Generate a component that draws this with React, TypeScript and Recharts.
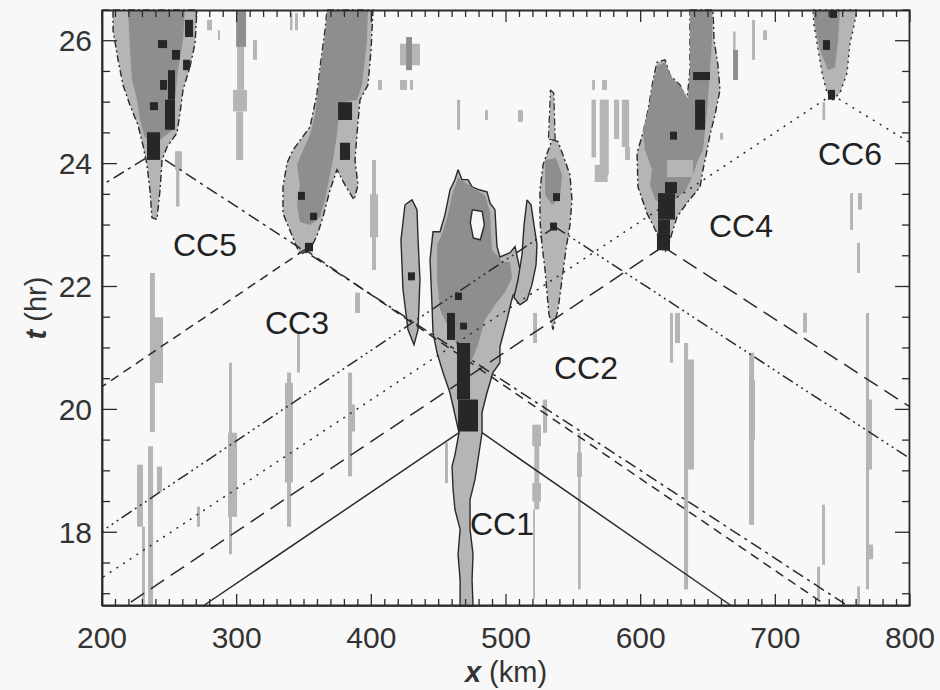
import React from 'react';
import { ScatterChart, Scatter, XAxis, YAxis } from 'recharts';

type Pair = [number, number];
type Rect = [number, number, number, number]; // x1, x2, t1, t2

// ---------- axis ticks ----------
const xTicks: number[] = Array.from({ length: 61 }, (_, i) => 200 + i * 10);
const yTicks: number[] = Array.from({ length: 20 }, (_, i) => 17 + i * 0.5);
const yLabelTicks = [18, 20, 22, 24, 26];
const xDomain: Pair = [200, 800];
const tDomain: Pair = [16.8, 26.5];
// inward tick lengths on the mirrored (top / right) edges, in data units
const topTickLen = { major: 0.195, minor: 0.114 }; // hr
const rightTickLen = { major: 11.1, minor: 5.9 }; // km
// the frame is traced a hair inside the domain so its stroke is not clipped away
const frameInset = { x: 0.4, t: 0.008 };

// ---------- cluster outlines [x km, t hr] ----------
const cc1Outer: Pair[] = [
  [464.4, 23.9], [467.3, 23.74], [471.8, 23.74], [474.8, 23.62], [480.7, 23.57], [485.9, 23.54],
  [488.1, 23.36], [491.8, 23.25], [493.3, 22.65], [495.5, 22.48], [503.0, 22.55], [506.7, 22.65],
  [510.4, 22.27], [512.6, 22.0], [505.2, 21.86], [503.0, 21.67], [500.8, 21.46], [495.5, 21.02],
  [495.5, 20.76], [490.3, 20.6], [485.9, 20.27], [482.2, 19.95], [482.2, 19.62], [479.2, 19.18],
  [477.0, 18.86], [473.3, 18.53], [473.3, 18.05], [475.5, 17.64], [474.8, 17.23], [475.5, 16.8],
  [465.9, 16.8], [465.9, 17.23], [464.4, 17.64], [465.9, 18.05], [462.1, 18.37], [460.7, 18.7],
  [459.9, 19.07], [462.1, 19.26], [465.1, 19.62], [458.4, 20.27], [453.2, 20.6], [448.8, 20.92],
  [445.8, 21.25], [445.1, 21.67], [443.6, 22.44], [445.8, 22.89], [451.0, 22.89], [454.7, 23.17],
  [458.4, 23.57], [462.1, 23.74],
];
const cc1Medium: Pair[] = [
  [464.4, 23.77], [473.3, 23.64], [484.4, 23.48], [488.1, 23.22], [489.6, 22.6], [497.8, 22.4],
  [503.0, 22.4], [504.5, 22.14], [499.3, 21.91], [491.8, 21.7], [484.4, 21.46], [479.2, 21.05],
  [473.3, 20.73], [465.9, 20.78], [462.1, 21.14], [456.2, 21.38], [451.0, 21.62], [448.8, 22.11],
  [448.8, 22.68], [453.2, 22.89], [456.9, 23.17], [459.9, 23.49],
];
const cc1Finger: Pair[] = [
  [425.0, 23.33], [430.2, 23.41], [433.9, 23.25], [434.7, 22.76], [436.1, 22.11], [434.7, 21.3],
  [431.7, 21.05], [427.2, 21.3], [423.5, 21.95], [422.0, 22.76],
];
const cc1Lobe: Pair[] = [
  [515.6, 23.41], [518.6, 23.33], [520.8, 23.0], [523.0, 22.68], [522.3, 22.35], [519.3, 22.03],
  [515.6, 21.78], [510.4, 21.7], [505.9, 21.82], [508.9, 22.11], [511.9, 22.52], [513.4, 23.0],
];
const cc1Hole: Pair[] = [
  [475.0, 23.25], [482.4, 23.22], [483.9, 23.0], [480.9, 22.76], [475.7, 22.79], [473.5, 23.04],
];
const cc2Outer: Pair[] = [
  [534.2, 24.39], [538.6, 24.36], [542.3, 24.14], [547.5, 23.82], [549.0, 23.41], [547.5, 23.0],
  [544.5, 22.6], [541.6, 22.11], [538.6, 21.62], [534.9, 21.3], [531.9, 21.55], [530.5, 21.88],
  [529.0, 22.27], [526.7, 22.68], [525.2, 23.09], [525.2, 23.57], [527.5, 23.98],
];
const cc2Medium: Pair[] = [
  [529.0, 24.06], [537.1, 24.09], [541.6, 23.82], [540.1, 23.44], [534.2, 23.33], [529.0, 23.49],
];
const cc2Top: Pair[] = [
  [533.0, 25.2], [535.5, 25.15], [536.5, 24.39], [531.5, 24.39],
];
const cc3Outer: Pair[] = [
  [367.1, 26.5], [401.2, 26.5], [399.8, 25.85], [397.5, 25.28], [391.6, 25.04], [389.4, 24.5],
  [387.9, 24.06], [390.1, 23.65], [387.1, 23.41], [380.5, 23.65], [374.5, 23.9], [369.3, 23.57],
  [364.1, 23.13], [359.7, 22.83], [354.5, 22.6], [347.0, 22.52], [341.1, 22.83], [334.4, 23.19],
  [334.4, 23.62], [337.4, 24.01], [341.8, 24.22], [354.5, 24.6], [359.7, 25.15], [361.9, 25.57],
  [365.6, 26.17],
];
const cc3Medium: Pair[] = [
  [367.1, 26.5], [397.5, 26.5], [396.8, 26.01], [393.1, 25.28], [389.4, 25.04], [376.7, 24.99],
  [374.5, 24.47], [371.5, 24.06], [369.3, 23.82], [365.6, 23.41], [361.9, 23.13], [354.5, 23.0],
  [347.0, 23.05], [344.8, 23.33], [347.0, 23.65], [344.8, 23.98], [349.3, 24.22], [354.5, 24.47],
  [358.2, 24.79], [360.4, 25.2], [362.6, 25.6], [366.3, 26.17],
];
const cc4Outer: Pair[] = [
  [636.6, 26.5], [653.7, 26.5], [654.5, 26.01], [657.4, 25.6], [658.9, 25.2], [655.2, 24.79],
  [651.5, 24.47], [649.3, 24.22], [646.3, 23.9], [644.1, 23.62], [634.4, 23.36], [627.0, 23.13],
  [623.3, 22.87], [620.3, 22.65], [618.1, 22.56], [614.4, 22.65], [612.1, 22.87], [604.7, 23.19],
  [598.0, 23.62], [597.3, 24.17], [601.7, 24.5], [605.5, 24.87], [609.2, 25.36], [612.1, 25.65],
  [618.1, 25.69], [621.8, 25.44], [629.2, 25.28], [634.4, 25.04], [636.6, 25.52], [636.6, 26.01],
];
const cc4Medium: Pair[] = [
  [636.6, 26.5], [653.0, 26.5], [653.0, 26.01], [651.5, 25.52], [649.3, 24.87], [646.3, 24.22],
  [642.6, 24.06], [638.9, 23.82], [633.7, 23.57], [625.5, 23.41], [618.1, 23.33], [610.7, 23.41],
  [606.9, 23.65], [608.4, 23.9], [603.2, 24.22], [601.7, 24.55], [605.5, 24.87], [609.2, 25.33],
  [612.9, 25.6], [618.1, 25.65], [623.3, 25.39], [630.7, 25.23], [635.2, 25.04], [636.6, 25.52],
];
const cc5Outer: Pair[] = [
  [208.2, 26.5], [270.5, 26.5], [269.1, 25.96], [265.3, 25.57], [260.2, 25.2], [257.9, 24.82],
  [255.7, 24.5], [248.3, 24.27], [244.6, 24.06], [243.1, 23.57], [240.8, 23.09], [237.1, 23.12],
  [235.6, 23.57], [233.4, 23.98], [230.4, 24.3], [226.7, 24.63], [220.8, 24.95], [215.6, 25.28],
  [211.9, 25.69], [208.2, 26.17],
];
const cc5Medium: Pair[] = [
  [219.3, 26.5], [261.6, 26.5], [260.2, 26.01], [256.4, 25.52], [254.2, 25.04], [252.7, 24.55],
  [243.1, 24.39], [231.9, 24.42], [228.2, 24.71], [226.0, 25.04], [222.3, 25.36], [220.8, 25.85],
];
const cc6Outer: Pair[] = [
  [728.0, 26.5], [760.7, 26.5], [757.7, 26.17], [755.5, 25.96], [753.2, 25.47], [748.0, 25.15],
  [742.8, 25.04], [738.4, 25.15], [734.7, 25.47], [731.0, 25.96], [728.7, 26.26],
];
const cc6Medium: Pair[] = [
  [728.0, 26.5], [748.0, 26.5], [746.6, 26.01], [744.3, 25.57], [739.1, 25.52], [733.2, 25.85],
  [729.5, 26.26],
];

// ---------- cells and streaks [x1, x2, t1, t2] ----------
const lightStreaks: Rect[] = [
  [235.6, 239.3, 19.63, 22.22], [235.6, 245.3, 20.43, 21.5], [226.0, 230.4, 18.09, 19.1],
  [234.2, 237.9, 16.8, 19.4], [229.7, 231.9, 16.8, 18.09], [240.8, 244.6, 18.65, 19.07],
  [294.3, 296.5, 17.64, 20.76], [293.6, 300.3, 18.25, 19.62], [337.4, 340.4, 18.09, 20.6],
  [335.9, 341.8, 18.81, 20.43], [344.8, 347.0, 20.6, 21.25], [382.7, 385.7, 18.91, 20.6],
  [383.4, 387.9, 19.64, 20.08], [387.9, 391.6, 21.57, 21.9], [270.5, 272.8, 18.09, 18.42],
  [400.5, 403.5, 22.27, 24.06], [399.0, 405.0, 22.8, 23.5],
  [300.3, 305.5, 25.2, 25.9], [297.3, 307.7, 24.85, 25.2], [299.6, 304.8, 24.06, 24.85],
  [312.1, 315.1, 25.69, 26.01], [278.0, 281.7, 26.17, 26.34], [286.1, 287.6, 26.01, 26.17],
  [339.6, 341.5, 26.17, 26.45], [343.3, 345.5, 26.17, 26.45],
  [421.3, 425.8, 25.6, 25.95], [430.2, 436.1, 25.6, 25.95],
  [405.0, 407.9, 25.2, 25.36], [421.3, 426.5, 25.2, 25.36], [428.7, 431.0, 25.2, 25.36],
  [484.4, 486.6, 24.71, 24.87], [508.9, 512.6, 24.68, 24.87], [463.6, 465.9, 24.55, 25.04],
  [563.5, 566.8, 24.1, 25.04], [569.6, 576.3, 23.82, 25.04], [565.9, 575.5, 23.7, 23.98],
  [580.2, 584.0, 24.4, 25.04], [586.0, 591.4, 24.27, 25.04], [588.4, 592.1, 24.06, 24.27],
  [563.9, 566.1, 25.2, 25.36], [571.3, 575.0, 25.2, 25.36],
  [682.7, 684.9, 25.69, 26.34], [690.9, 693.8, 26.01, 26.17], [658.9, 661.2, 24.39, 24.5],
  [668.6, 670.5, 25.85, 26.15],
  [755.5, 757.7, 22.92, 23.52], [761.4, 764.4, 23.25, 23.52], [760.7, 762.9, 22.22, 22.71],
  [621.8, 624.0, 20.76, 21.57], [625.5, 629.2, 21.08, 21.57], [632.2, 635.2, 17.07, 21.08],
  [632.2, 639.6, 19.02, 20.81],
  [680.5, 684.2, 18.12, 20.92], [680.5, 684.9, 19.51, 20.48],
  [767.3, 769.6, 17.07, 21.57], [768.8, 771.8, 19.02, 20.16], [768.1, 772.6, 17.56, 17.8],
  [720.6, 723.5, 21.25, 21.57],
  [734.7, 736.9, 17.47, 18.45], [731.0, 733.2, 16.91, 17.44], [760.7, 762.9, 16.8, 17.12],
  [521.0, 524.7, 18.37, 19.75], [519.5, 526.0, 18.5, 18.8], [519.5, 526.0, 19.4, 19.75],
  [520.1, 521.5, 16.91, 18.37], [527.5, 530.5, 19.62, 20.16],
  [553.5, 555.5, 17.07, 19.62], [552.7, 556.4, 18.9, 19.3],
  [454.7, 456.9, 18.8, 19.46], [520.1, 523.0, 21.08, 21.57],
  [255.0, 257.5, 23.3, 24.2], [254.2, 259.4, 23.9, 24.2],
  [735.0, 737.0, 24.71, 25.0],
];
const mediumBlocks: Rect[] = [
  [299.6, 307.0, 25.9, 26.5], [425.8, 430.2, 25.52, 26.06], [668.6, 672.3, 25.36, 25.85],
];
const lightPatches: Rect[] = [
  [619.6, 638.9, 23.78, 24.06],
];
const darkCells: Rect[] = [
  [427.2, 432.4, 22.1, 22.23], [462.1, 467.3, 21.78, 21.9], [456.2, 462.1, 21.13, 21.57],
  [465.9, 471.0, 21.3, 21.41], [463.6, 473.3, 20.16, 21.08], [464.4, 479.2, 19.64, 20.16],
  [534.9, 540.1, 23.39, 23.52], [532.7, 537.9, 22.91, 23.04],
  [375.3, 385.7, 24.71, 25.0], [376.7, 384.2, 24.06, 24.34], [345.5, 350.7, 23.41, 23.54],
  [354.5, 359.7, 23.08, 23.2], [350.7, 356.7, 22.57, 22.71],
  [638.9, 651.5, 25.36, 25.49], [640.4, 647.8, 24.55, 25.04], [621.8, 627.0, 24.39, 24.52],
  [618.1, 627.0, 23.52, 23.7], [612.9, 625.5, 23.09, 23.52], [612.9, 621.8, 22.87, 23.09],
  [612.1, 621.8, 22.59, 22.87],
  [241.6, 248.3, 25.88, 26.01], [252.0, 257.9, 25.69, 25.85], [260.2, 265.3, 25.52, 25.69],
  [261.6, 267.6, 26.06, 26.34], [243.1, 248.3, 25.2, 25.36], [249.0, 254.2, 25.04, 25.52],
  [235.6, 241.6, 24.87, 25.0], [246.8, 254.2, 24.55, 25.04], [233.4, 243.1, 24.06, 24.51],
  [740.6, 745.8, 26.37, 26.5], [735.4, 740.6, 25.85, 26.01], [739.1, 744.3, 25.04, 25.2],
];

// ---------- characteristic rays from each cluster ----------
const rays: { cc: string; from: Pair; to: Pair }[] = [
  { cc: 'CC1', from: [465.1, 19.62], to: [275.0, 16.8] },
  { cc: 'CC1', from: [482.2, 19.62], to: [667.6, 16.8] },
  { cc: 'CC2', from: [536.4, 22.97], to: [200, 18.02] },
  { cc: 'CC2', from: [536.4, 22.97], to: [800, 19.2] },
  { cc: 'CC3', from: [350.7, 22.6], to: [200, 20.37] },
  { cc: 'CC3', from: [350.7, 22.6], to: [738.4, 16.8] },
  { cc: 'CC4', from: [616.6, 22.65], to: [217.1, 16.8] },
  { cc: 'CC4', from: [616.6, 22.65], to: [800, 20.04] },
  { cc: 'CC5', from: [232.0, 24.08], to: [200, 23.65] },
  { cc: 'CC5', from: [246.8, 24.06], to: [754.0, 16.8] },
  { cc: 'CC6', from: [742.1, 25.12], to: [200, 17.26] },
  { cc: 'CC6', from: [742.1, 25.12], to: [800, 24.34] },
];
const rayDash: Record<string, string | undefined> = {
  CC1: undefined,
  CC2: '12 4 2 4 2 4 2 4',
  CC3: '9 6',
  CC4: '16 8',
  CC5: '12 5 3 5',
  CC6: '2 6',
};

const ccLabels = [
  { name: 'CC1', x: 497.0, t: 18.15 },
  { name: 'CC2', x: 559.4, t: 20.68 },
  { name: 'CC3', x: 344.8, t: 21.41 },
  { name: 'CC4', x: 674.5, t: 22.99 },
  { name: 'CC5', x: 276.5, t: 22.69 },
  { name: 'CC6', x: 755.4, t: 24.17 },
];

// ---------- style ----------
const BG = '#f8f8f8';
const LIGHT = '#b5b5b5';
const MED = '#8e8e8e';
const DARK = '#272727';
const INK = '#2a2a2a';
const FONT = '"Liberation Sans", Arial, sans-serif';
const DASHDOT = '7 3 2 3';

const toPts = (arr: Pair[]) => [...arr, arr[0]].map(([x, t]) => ({ x, t }));
const rectPts = ([x1, x2, t1, t2]: Rect) => toPts([[x1, t1], [x2, t1], [x2, t2], [x1, t2]]);
const segPts = (a: Pair, b: Pair) => [{ x: a[0], t: a[1] }, { x: b[0], t: b[1] }];
const framePts = rectPts([
  xDomain[0] + frameInset.x,
  xDomain[1] - frameInset.x,
  tDomain[0] + frameInset.t,
  tDomain[1] - frameInset.t,
]);
const topTicks: { x: number; t: number }[][] = xTicks.map((v) =>
  segPts([v, tDomain[1]], [v, tDomain[1] - (v % 100 === 0 ? topTickLen.major : topTickLen.minor)]),
);
const rightTicks: { x: number; t: number }[][] = yTicks.map((v) =>
  segPts([xDomain[1], v], [xDomain[1] - (yLabelTicks.includes(v) ? rightTickLen.major : rightTickLen.minor), v]),
);

const NoDot = () => <g />;

const layer = (
  key: string,
  data: { x: number; t: number }[],
  fill: string,
  stroke?: string,
  dash?: string,
  width = 1.4,
) => (
  <Scatter
    key={key}
    data={data}
    shape={NoDot}
    isAnimationActive={false}
    legendType="none"
    lineType="joint"
    line={{ fill, stroke: stroke || 'none', strokeWidth: width, strokeDasharray: dash }}
  />
);

const BottomTick = (p: any) => {
  const v = p.payload.value;
  const major = v % 100 === 0;
  return (
    <g>
      <line x1={p.x} x2={p.x} y1={p.y} y2={p.y - (major ? 12 : 7)} stroke={INK} strokeWidth={1.3} />
      {major && (
        <text x={p.x} y={p.y + 42} textAnchor="middle" fontSize={30} fill="#333" fontFamily={FONT}>
          {v}
        </text>
      )}
    </g>
  );
};
const LeftTick = (p: any) => {
  const v = p.payload.value;
  const major = yLabelTicks.includes(v);
  return (
    <g>
      <line x1={p.x} x2={p.x + (major ? 15 : 8)} y1={p.y} y2={p.y} stroke={INK} strokeWidth={1.3} />
      {major && (
        <text x={p.x - 10} y={p.y + 10.7} textAnchor="end" fontSize={30} fill="#333" fontFamily={FONT}>
          {v}
        </text>
      )}
    </g>
  );
};

const XTitle = (p: any) => {
  const vb = p.viewBox;
  return (
    <text x={vb.x + vb.width / 2} y={vb.y + 76} textAnchor="middle" fontSize={29} fill="#333" fontFamily={FONT}>
      <tspan fontWeight="bold" fontStyle="italic">x</tspan>
      <tspan> (km)</tspan>
    </text>
  );
};
const YTitle = (p: any) => {
  const vb = p.viewBox;
  return (
    <text
      transform={`translate(46, ${vb.y + vb.height / 2}) rotate(-90)`}
      textAnchor="middle"
      fontSize={29}
      fill="#333"
      fontFamily={FONT}
    >
      <tspan fontWeight="bold" fontStyle="italic">t</tspan>
      <tspan> (hr)</tspan>
    </text>
  );
};

const LabelShape = (p: any) => (
  <text x={p.cx} y={p.cy + 11.5} textAnchor="middle" fontSize={32} fill="#222" fontFamily={FONT}>
    {p.payload.name}
  </text>
);

export default function App() {
  const axisLine = { stroke: INK, strokeWidth: 1.6 };
  return (
    <div style={{ position: 'absolute', left: 0, top: 0, width: 940, height: 690, background: BG }}>
      <ScatterChart width={940} height={690} margin={{ top: 10, right: 30, bottom: 24, left: 42 }}>
        <XAxis
          type="number"
          dataKey="x"
          domain={xDomain}
          ticks={xTicks}
          interval={0}
          height={60}
          tickSize={0}
          tickMargin={0}
          tickLine={false}
          axisLine={axisLine}
          tick={BottomTick}
          label={{ content: XTitle }}
        />
        <YAxis
          type="number"
          dataKey="t"
          domain={tDomain}
          ticks={yTicks}
          interval={0}
          width={60}
          tickSize={0}
          tickMargin={0}
          tickLine={false}
          axisLine={axisLine}
          tick={LeftTick}
          label={{ content: YTitle }}
        />

        {lightStreaks.map((r, i) => layer(`ls${i}`, rectPts(r), LIGHT))}

        {layer('cc5o', toPts(cc5Outer), LIGHT, INK, DASHDOT)}
        {layer('cc5m', toPts(cc5Medium), MED)}
        {layer('cc3o', toPts(cc3Outer), LIGHT, INK, DASHDOT)}
        {layer('cc3m', toPts(cc3Medium), MED)}
        {layer('cc2t', toPts(cc2Top), LIGHT, INK, DASHDOT, 1.2)}
        {layer('cc2o', toPts(cc2Outer), LIGHT, INK, DASHDOT)}
        {layer('cc2m', toPts(cc2Medium), MED)}
        {layer('cc4o', toPts(cc4Outer), LIGHT, INK, DASHDOT)}
        {layer('cc4m', toPts(cc4Medium), MED)}
        {layer('cc6o', toPts(cc6Outer), LIGHT, INK, '2 4')}
        {layer('cc6m', toPts(cc6Medium), MED)}
        {layer('cc1o', toPts(cc1Outer), LIGHT, INK)}
        {layer('cc1m', toPts(cc1Medium), MED)}
        {layer('cc1f', toPts(cc1Finger), LIGHT, INK)}
        {layer('cc1l', toPts(cc1Lobe), LIGHT, INK)}
        {layer('cc1h', toPts(cc1Hole), BG, INK)}

        {mediumBlocks.map((r, i) => layer(`mb${i}`, rectPts(r), MED))}
        {lightPatches.map((r, i) => layer(`lp${i}`, rectPts(r), LIGHT))}
        {darkCells.map((r, i) => layer(`dc${i}`, rectPts(r), DARK))}

        {rays.map((r, i) => layer(`ray${i}`, segPts(r.from, r.to), 'none', INK, rayDash[r.cc], 1.5))}

        {layer('frame', framePts, 'none', INK, undefined, 1.8)}
        {topTicks.map((s, i) => layer(`tt${i}`, s, 'none', INK, undefined, 1.3))}
        {rightTicks.map((s, i) => layer(`rt${i}`, s, 'none', INK, undefined, 1.3))}

        <Scatter data={ccLabels} shape={LabelShape} isAnimationActive={false} legendType="none" />
      </ScatterChart>
    </div>
  );
}
